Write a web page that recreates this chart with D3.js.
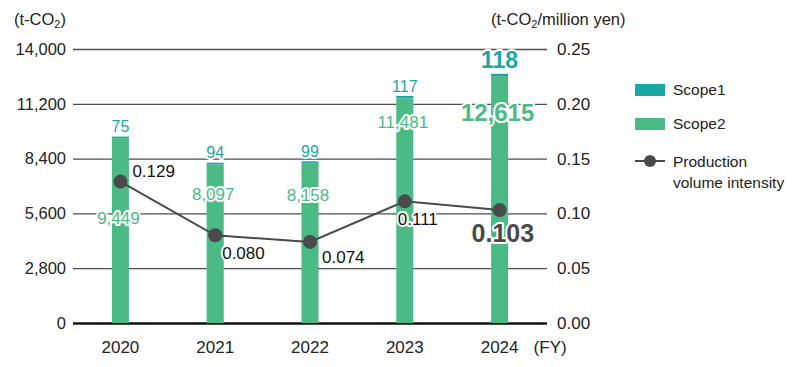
<!DOCTYPE html>
<html>
<head>
<meta charset="utf-8">
<script src="https://cdn.jsdelivr.net/npm/d3@7"></script>
<style>
  body { margin: 0; background: #fff; }
  svg text { font-family: "Liberation Sans", Arial, sans-serif; }
  .halo { stroke: #fff; stroke-width: 4px; stroke-linejoin: round; paint-order: stroke; }
</style>
</head>
<body>
<script>
var years = ['2020', '2021', '2022', '2023', '2024'];
var scope1 = [75, 94, 99, 117, 118];
var scope2 = [9449, 8097, 8158, 11481, 12615];
var intensity = [0.129, 0.080, 0.074, 0.111, 0.103];
var leftTicks = [0, 2800, 5600, 8400, 11200, 14000];
var rightTicks = [0, 0.05, 0.10, 0.15, 0.20, 0.25];

// label nudges in px (layout, not data)
var s1Off = [-10, -10, -10, -10, -14];
var s2Off = [80, 30, 32, 24, 36];
var intOff = [[12, -11], [7, 18], [12, 15], [-7, 18], [-28, 23]];

var teal = '#1ba7a4', green = '#4cba85', dark = '#4a4a4a';

var margin = {top: 49, left: 73},
  width = 474,
  height = 274;

var svg = d3.select('body').append('svg')
  .attr('width', 800)
  .attr('height', 367);

var x = d3.scaleBand().domain(years).range([0, width]).paddingInner(0.82).paddingOuter(0.41),
  y = d3.scaleLinear().domain([0, 14000]).range([height, 0]),
  y2 = d3.scaleLinear().domain([0, 0.25]).range([height, 0]);

var g = svg.append('g')
  .attr('transform', 'translate(' + margin.left + ',' + margin.top + ')');

// grid + left axis
var yAxis = d3.axisLeft(y).tickValues(leftTicks).tickSize(-width).tickPadding(7)
  .tickFormat(d3.format(','));
var gl = g.append('g').call(yAxis);
gl.select('.domain').remove();
gl.selectAll('line').attr('stroke', '#4d4d4d').attr('stroke-width', 1.3);
gl.selectAll('text').attr('font-size', 16.5).attr('fill', '#222');
gl.selectAll('.tick').filter(function(d) { return d === 0; }).select('line')
  .attr('stroke', '#111').attr('stroke-width', 2.5);

var yAxisR = d3.axisRight(y2).tickValues(rightTicks).tickSize(0).tickPadding(10)
  .tickFormat(d3.format('.2f'));
var gr = g.append('g').attr('transform', 'translate(' + width + ',0)').call(yAxisR);
gr.select('.domain').remove();
gr.selectAll('text').attr('font-size', 17).attr('fill', '#222');

var xAxis = d3.axisBottom(x).tickSize(0).tickPadding(18);
var gx = g.append('g').attr('transform', 'translate(0,' + height + ')').call(xAxis);
gx.select('.domain').remove();
gx.selectAll('text').attr('font-size', 17).attr('fill', '#222');
g.append('text').attr('x', x('2024') + x.bandwidth() / 2 + 34).attr('y', height + 30)
  .attr('font-size', 17).attr('fill', '#222').text('(FY)');

// units
svg.append('text').attr('x', 14).attr('y', 25).attr('font-size', 16.5).attr('fill', '#222')
  .html('(t-CO<tspan font-size="11" dy="3">2</tspan><tspan dy="-3">)</tspan>');
svg.append('text').attr('x', 491).attr('y', 25).attr('font-size', 16.5).attr('fill', '#222')
  .html('(t-CO<tspan font-size="11" dy="3">2</tspan><tspan dy="-3">/million yen)</tspan>');

// bars
var data = years.map(function(yr, i) {
  return {year: yr, s1: scope1[i], s2: scope2[i], v: intensity[i], i: i};
});

g.selectAll('.s2').data(data).enter().append('rect')
  .attr('x', function(d) { return x(d.year); })
  .attr('width', x.bandwidth())
  .attr('y', function(d) { return y(d.s2); })
  .attr('height', function(d) { return height - y(d.s2); })
  .attr('fill', green);

g.selectAll('.s1').data(data).enter().append('rect')
  .attr('x', function(d) { return x(d.year); })
  .attr('width', x.bandwidth())
  .attr('y', function(d) { return y(d.s1 + d.s2); })
  .attr('height', function(d) { return y(d.s2) - y(d.s1 + d.s2); })
  .attr('fill', teal);

// intensity line
var cx = function(d) { return x(d.year) + x.bandwidth() / 2; };
g.append('path').datum(data)
  .attr('fill', 'none').attr('stroke', dark).attr('stroke-width', 2)
  .attr('d', d3.line().x(cx).y(function(d) { return y2(d.v); }));
g.selectAll('.dot').data(data).enter().append('circle')
  .attr('cx', cx).attr('cy', function(d) { return y2(d.v); })
  .attr('r', 7).attr('fill', dark);

// labels
var fmt = d3.format(',');
g.selectAll('.l1').data(data).enter().append('text')
  .attr('class', 'halo')
  .attr('x', cx).attr('y', function(d) { return y(d.s1 + d.s2) + s1Off[d.i]; })
  .attr('dy', '0.35em').attr('text-anchor', 'middle')
  .attr('fill', teal)
  .attr('font-size', function(d) { return d.i === 4 ? 23 : 16; })
  .attr('font-weight', function(d) { return d.i === 4 ? 'bold' : 'normal'; })
  .text(function(d) { return d.s1; });

g.selectAll('.l2').data(data).enter().append('text')
  .attr('class', 'halo')
  .attr('x', function(d) { return cx(d) - 2; }).attr('y', function(d) { return y(d.s2) + s2Off[d.i]; })
  .attr('dy', '0.35em').attr('text-anchor', 'middle')
  .attr('fill', green)
  .attr('font-size', function(d) { return d.i === 4 ? 24 : 17; })
  .attr('font-weight', function(d) { return d.i === 4 ? 'bold' : 'normal'; })
  .text(function(d) { return fmt(d.s2); });

g.selectAll('.l3').data(data).enter().append('text')
  .attr('class', 'halo')
  .attr('x', function(d) { return cx(d) + intOff[d.i][0]; })
  .attr('y', function(d) { return y2(d.v) + intOff[d.i][1]; })
  .attr('dy', '0.35em').attr('text-anchor', 'start')
  .attr('fill', function(d) { return d.i === 4 ? dark : '#111'; })
  .attr('font-size', function(d) { return d.i === 4 ? 25 : 17; })
  .attr('font-weight', function(d) { return d.i === 4 ? 'bold' : 'normal'; })
  .text(function(d) { return d.v.toFixed(3); });

// legend
var lg = svg.append('g').attr('transform', 'translate(635,0)');
lg.append('rect').attr('x', 0).attr('y', 84).attr('width', 30).attr('height', 12).attr('fill', teal);
lg.append('text').attr('x', 38).attr('y', 90).attr('dy', '0.35em').attr('font-size', 15.5).attr('fill', '#222').text('Scope1');
lg.append('rect').attr('x', 0).attr('y', 118).attr('width', 30).attr('height', 12).attr('fill', green);
lg.append('text').attr('x', 38).attr('y', 124).attr('dy', '0.35em').attr('font-size', 15.5).attr('fill', '#222').text('Scope2');
lg.append('line').attr('x1', 0).attr('x2', 30).attr('y1', 161).attr('y2', 161).attr('stroke', dark).attr('stroke-width', 2);
lg.append('circle').attr('cx', 15).attr('cy', 161).attr('r', 6).attr('fill', dark);
lg.append('text').attr('x', 38).attr('y', 162).attr('dy', '0.35em').attr('font-size', 15.5).attr('fill', '#222').text('Production');
lg.append('text').attr('x', 38).attr('y', 183).attr('dy', '0.35em').attr('font-size', 15.5).attr('fill', '#222').text('volume intensity');
</script>
</body>
</html>
